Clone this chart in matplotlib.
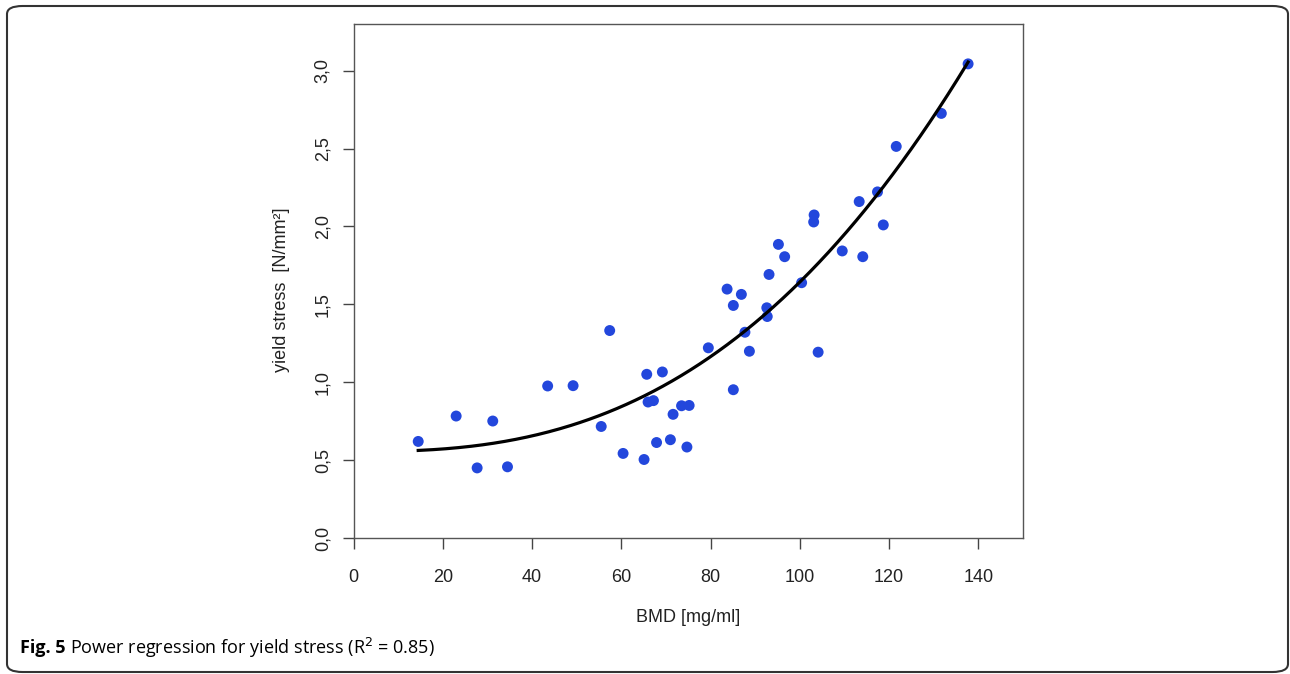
import numpy as np
import matplotlib
matplotlib.use("Agg")
import matplotlib.pyplot as plt
from matplotlib.patches import FancyBboxPatch

# BMD [mg/ml] vs yield stress [N/mm²]
bmd = [14.5, 23.0, 27.7, 31.2, 34.5, 43.5, 49.2, 55.5, 57.4, 60.4,
       65.1, 65.7, 66.0, 67.2, 67.9, 69.2, 71.0, 71.6, 73.5, 74.7,
       75.2, 79.5, 83.7, 85.1, 85.1, 86.9, 87.7, 88.7, 92.6, 92.7,
       93.1, 95.2, 96.6, 100.4, 103.1, 103.2, 104.1, 109.5, 113.3, 114.1,
       117.4, 118.7, 121.6, 131.7, 137.7]
stress = [0.62, 0.783, 0.45, 0.751, 0.457, 0.976, 0.978, 0.716, 1.332, 0.543,
          0.504, 1.051, 0.873, 0.882, 0.613, 1.066, 0.631, 0.794, 0.849, 0.584,
          0.851, 1.221, 1.598, 1.493, 0.952, 1.564, 1.321, 1.199, 1.478, 1.422,
          1.692, 1.885, 1.806, 1.639, 2.029, 2.074, 1.193, 1.843, 2.160, 1.806,
          2.222, 2.010, 2.514, 2.726, 3.044]

# power curve y = a + b * x^c (parameters)
fit_a = 0.555
fit_b = 6.868e-6
fit_c = 2.6

x_ticks = [0, 20, 40, 60, 80, 100, 120, 140]
y_ticks = [0.0, 0.5, 1.0, 1.5, 2.0, 2.5, 3.0]
y_tick_labels = ["0,0", "0,5", "1,0", "1,5", "2,0", "2,5", "3,0"]

plt.rcParams['font.family'] = ['Liberation Sans', 'DejaVu Sans']
cap_font, cap_size = 'Open Sans', 13

fig = plt.figure(figsize=(12.9, 6.74), dpi=100)
ax = fig.add_axes([353.5 / 1290, 136 / 674, (1023 - 353.5) / 1290, (538 - 24) / 674])

ax.scatter(bmd, stress, s=62, color='#2347dc', edgecolors='none', zorder=3)

xs = np.linspace(min(bmd), max(bmd), 300)
ax.plot(xs, fit_a + fit_b * xs ** fit_c, color='black', lw=2.3, zorder=4)

ax.set_xlim(0, 150)
ax.set_ylim(0, 3.3)
ax.set_xticks(x_ticks)
ax.set_yticks(y_ticks)
ax.set_yticklabels(y_tick_labels, rotation=90, va='center')
ax.tick_params(direction='out', length=8, width=1, color='#444444',
               labelsize=13, labelcolor='#222222')
ax.tick_params(axis='x', pad=14)
ax.tick_params(axis='y', pad=8)
for sp in ax.spines.values():
    sp.set_color('#555555')
    sp.set_linewidth(1)

fig.text(688 / 1290, 1 - 618 / 674, "BMD [mg/ml]", ha='center', va='center',
         fontsize=13, color='#222222')
fig.text(282 / 1290, 1 - 290 / 674, "yield stress  [N/mm²]", ha='center', va='center',
         rotation=90, fontsize=13, color='#222222')

# caption
t1 = fig.text(20 / 1290, 1 - 648 / 674, "Fig. 5", fontsize=cap_size, fontweight='bold',
              family=[cap_font, 'DejaVu Sans'], va='center', ha='left')
fig.canvas.draw()
bb = t1.get_window_extent()
fig.text((bb.x1 + 5) / 1290, 1 - 648 / 674,
         r"Power regression for yield stress (R$^2$ = 0.85)",
         fontsize=cap_size, family=[cap_font, 'DejaVu Sans'], va='center', ha='left')

# rounded frame around the panel
frame = FancyBboxPatch((7 / 1290, 2 / 674), 1281 / 1290, 666 / 674,
                       boxstyle="round,pad=0,rounding_size=0.012",
                       transform=fig.transFigure, fill=False,
                       edgecolor='#333333', lw=1.5)
fig.patches.append(frame)

fig.savefig("out.png", dpi=100)
